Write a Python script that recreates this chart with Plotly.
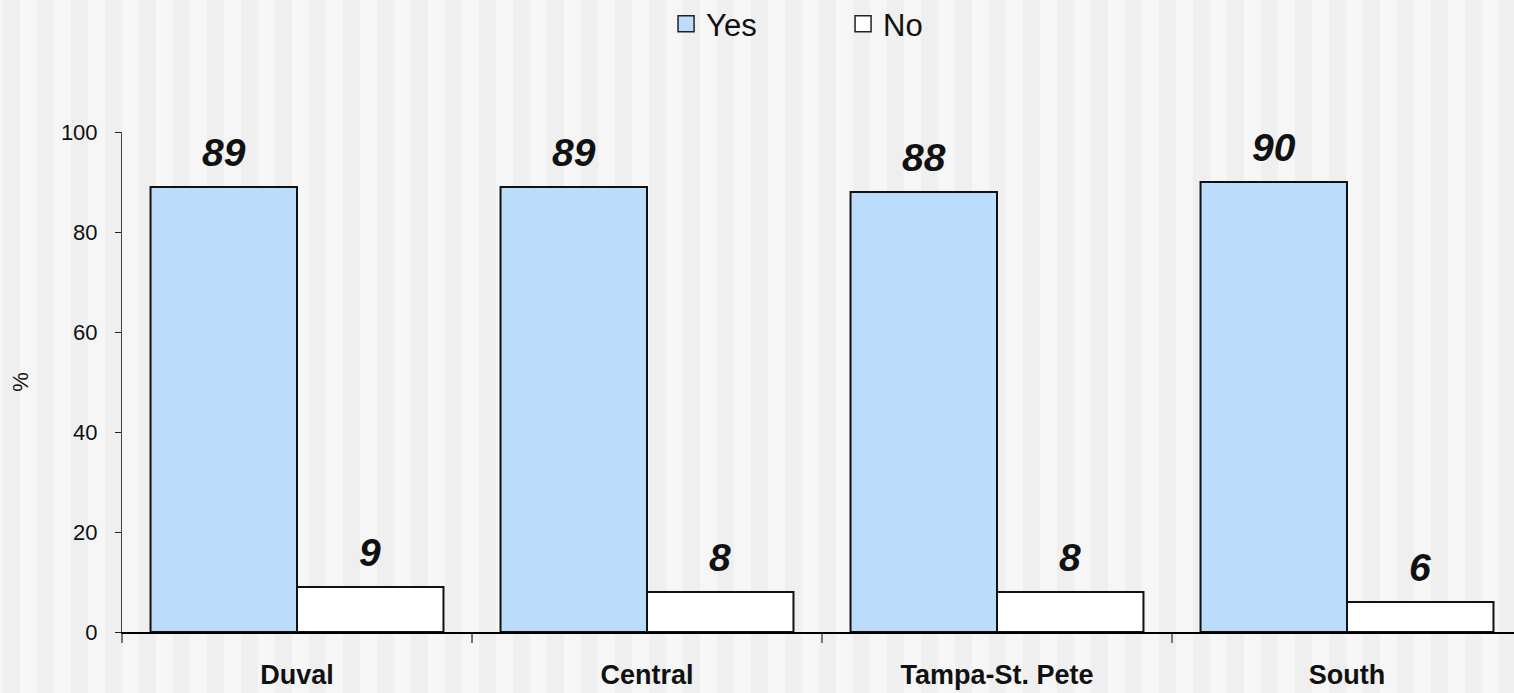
import plotly.graph_objects as go

categories = ["Duval", "Central", "Tampa-St. Pete", "South"]
yes_values = [89, 89, 88, 90]
no_values = [9, 8, 8, 6]
series_names = ["Yes", "No"]
y_ticks = [0, 20, 40, 60, 80, 100]

W, H = 1514, 693
ML, MR, MT, MB = 122, 0, 132, 61
PW, PH = W - ML - MR, H - MT - MB
BARGAP = 0.163

yes_color = "#bbddfb"
no_color = "#ffffff"
edge = "#111111"

fig = go.Figure()
fig.add_trace(go.Bar(name="Yes", x=categories, y=yes_values,
                     marker=dict(color=yes_color, line=dict(color=edge, width=2)),
                     showlegend=False))
fig.add_trace(go.Bar(name="No", x=categories, y=no_values,
                     marker=dict(color=no_color, line=dict(color=edge, width=2)),
                     showlegend=False))

# legend proxies
for nm, col in zip(series_names, [yes_color, no_color]):
    fig.add_trace(go.Scatter(name=nm, x=[None], y=[None], mode="markers",
                             marker=dict(symbol="square", size=20, color=col,
                                         line=dict(color="#222222", width=1.5))))

# data labels
off = (1 - BARGAP) / 4
annotations = []
for i, (yv, nv) in enumerate(zip(yes_values, no_values)):
    for dx, v in ((-off, yv), (off, nv)):
        annotations.append(dict(x=i + dx, y=v, xref="x", yref="y", text=str(v),
                                showarrow=False, yanchor="bottom", yshift=11,
                                font=dict(family="Arial, Liberation Sans", size=39,
                                          color="#111111", weight="bold", style="italic")))

# background stripes
shapes = []
px = 3 - 34
while px < W:
    x0 = (px - ML) / PW
    x1 = (px + 17 - ML) / PW
    shapes.append(dict(type="rect", xref="paper", yref="paper", x0=x0, x1=x1,
                       y0=-(MB + 2) / PH, y1=(PH + MT + 2) / PH,
                       fillcolor="#efefef", line=dict(width=0), layer="below"))
    px += 34

fig.update_layout(
    width=W, height=H,
    margin=dict(l=ML, r=MR, t=MT, b=MB, autoexpand=False),
    paper_bgcolor="#f6f6f6", plot_bgcolor="rgba(0,0,0,0)",
    barmode="group", bargap=BARGAP, bargroupgap=0,
    font=dict(family="Arial, Liberation Sans", color="#111111"),
    shapes=shapes, annotations=annotations,
    legend=dict(orientation="h", x=0.518, xanchor="center", y=1.216, yanchor="middle",
                font=dict(size=31), entrywidth=132, bgcolor="rgba(0,0,0,0)",
                itemsizing="trace"),
    xaxis=dict(type="category", range=[-0.5, 3.5 - 8 / 350], showline=True,
               linecolor="#000000", linewidth=1.5, ticks="outside", tickson="boundaries",
               ticklen=9, tickwidth=2, tickcolor="#777777", showgrid=False,
               tickfont=dict(size=27, weight="bold", color="#111111"),
               ticklabelstandoff=18, zeroline=False),
    yaxis=dict(range=[0, 100], tickvals=y_ticks, showline=True, linecolor="#444444",
               linewidth=1, ticks="outside", ticklen=6, tickcolor="#222222",
               showgrid=False, zeroline=False, tickfont=dict(size=22, color="#111111"),
               ticklabelstandoff=13,
               title=dict(text="%", font=dict(size=22), standoff=26)),
)

fig.write_html("out.html", config={"displayModeBar": False},
               post_script="document.body.style.margin='0';document.body.style.padding='0';")
